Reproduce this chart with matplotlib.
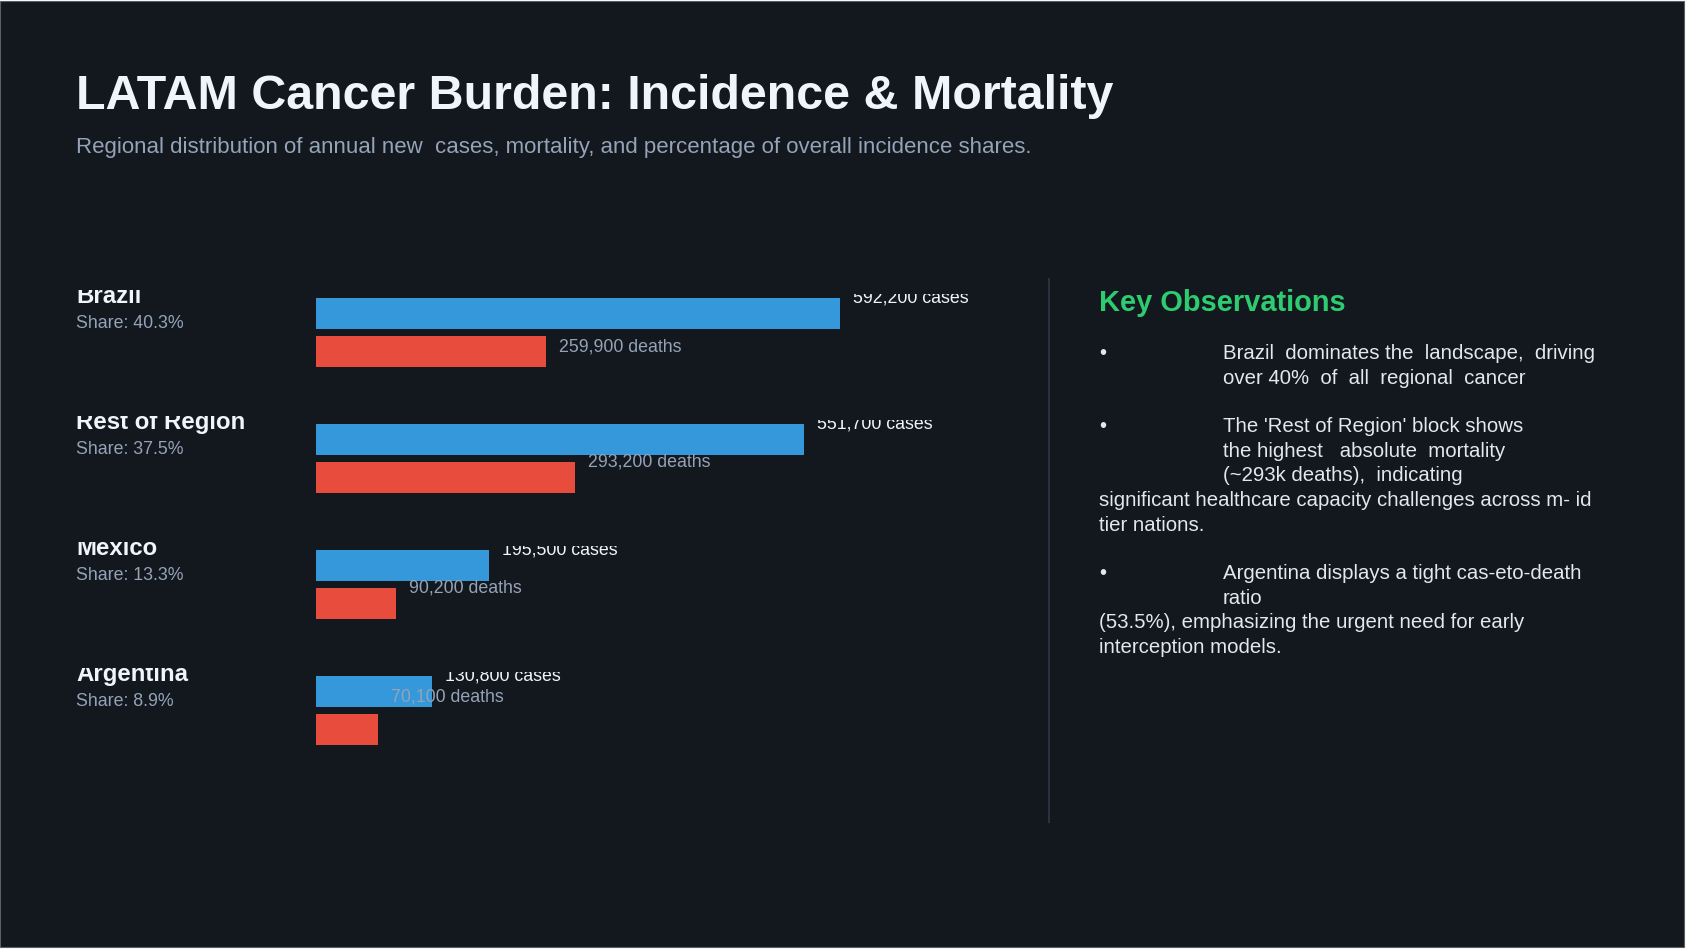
import matplotlib
matplotlib.use("Agg")
import matplotlib.pyplot as plt
from matplotlib.patches import Rectangle
from matplotlib.transforms import Bbox

plt.rcParams['font.family'] = ['Liberation Sans', 'DejaVu Sans']

# data
regions = ["Brazil", "Rest of Region", "Mexico", "Argentina"]
new_cases = [592200, 551700, 195500, 130800]
deaths = [259900, 293200, 90200, 70100]
shares = [40.3, 37.5, 13.3, 8.9]

title = "LATAM Cancer Burden: Incidence & Mortality"
subtitle = ("Regional distribution of annual new  cases, mortality, "
            "and percentage of overall incidence shares.")

# each observation: (indented lines next to the bullet, lines wrapped back to the margin)
observations = [
    (["Brazil  dominates the  landscape,  driving",
      "over 40%  of  all  regional  cancer"], []),
    (["The 'Rest of Region' block shows",
      "the highest   absolute  mortality",
      "(~293k deaths),  indicating"],
     ["significant healthcare capacity challenges across m- id",
      "tier nations."]),
    (["Argentina displays a tight cas-eto-death",
      "ratio"],
     ["(53.5%), emphasizing the urgent need for early",
      "interception models."]),
]

# colours
BG = '#13171e'
BLUE = '#3498db'
RED = '#e74c3c'
GREEN = '#2ecc71'
WHITE = '#f1f5f9'
MUTED = '#94a3b8'
BODY = '#e2e8f0'

# layout, in pixels from the top left corner
W, H = 1691, 953
BAR_X0, BAR_W, X_MAX = 316, 700, 791000
ROW0, ROW_STEP = 299, 126
BAR_H, BAR_GAP = 31, 7
DEATH_LABEL_DY = [15, 4, 4, -13]

fig = plt.figure(figsize=(W / 100, H / 100), dpi=100, facecolor='white')
bg = fig.add_axes([0, 0, 1, 1])
bg.set_xlim(0, W)
bg.set_ylim(H, 0)
bg.axis('off')
bg.add_patch(Rectangle((0, 2), 1684, 946, facecolor=BG, edgecolor='#5a5f66', lw=0.8))

bg.text(76, 109, title, fontsize=34.8, fontweight='bold', color=WHITE)
bg.text(76, 153, subtitle, fontsize=16, color=MUTED)

# bars
axb = fig.add_axes([BAR_X0 / W, 0, BAR_W / W, 1])
axb.set_xlim(0, X_MAX)
axb.set_ylim(H, 0)
axb.axis('off')
axb.patch.set_visible(False)

tops = [ROW0 + i * ROW_STEP for i in range(len(regions))]
death_tops = [t + BAR_H + BAR_GAP for t in tops]
axb.barh(tops, new_cases, height=BAR_H, align='edge', color=BLUE, zorder=2)
axb.barh(death_tops, deaths, height=BAR_H, align='edge', color=RED, zorder=2)


def clipped(txt, clip_y):
    # rows are cut off just above their first bar
    txt.set_clip_on(True)
    txt.set_clip_path(None)
    txt.set_clip_box(Bbox.from_extents(0, 0, W, H - clip_y))
    return txt


for i, name in enumerate(regions):
    top = tops[i]
    clipped(bg.text(76, top + 4, name, fontsize=17.3, fontweight='bold', color=WHITE), top - 8)
    clipped(bg.text(76, top + 29, f"Share: {shares[i]:.1f}%", fontsize=12.8, color=MUTED), top - 8)
    clipped(axb.annotate(f"{new_cases[i]:,} cases", xy=(new_cases[i], top + 4),
                         xytext=(13, 0), textcoords='offset pixels', va='baseline',
                         fontsize=12.8, color=WHITE, zorder=4), top - 4)
    clipped(axb.annotate(f"{deaths[i]:,} deaths", xy=(deaths[i], death_tops[i] + DEATH_LABEL_DY[i]),
                         xytext=(13, 0), textcoords='offset pixels', va='baseline',
                         fontsize=12.8, color=MUTED, zorder=4), top - 4)

# right panel
bg.plot([1049, 1049], [280, 823], color='#2a3240', lw=1.5)
bg.text(1099, 311, "Key Observations", fontsize=20.9, fontweight='bold', color=GREEN)

y = 359
for indented, flush in observations:
    bg.text(1099, y, "\u2022", fontsize=14.7, color=BODY)
    for line in indented:
        bg.text(1223, y, line, fontsize=14.7, color=BODY)
        y += 24.6
    for line in flush:
        bg.text(1099, y, line, fontsize=14.7, color=BODY)
        y += 24.6
    y += 24

fig.savefig('out.png', dpi=100, facecolor=fig.get_facecolor())
